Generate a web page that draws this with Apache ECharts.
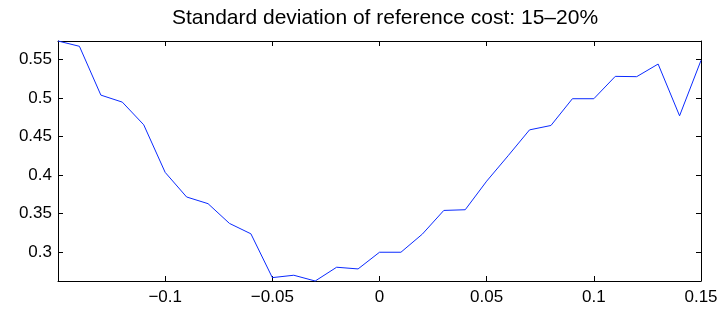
<!DOCTYPE html>
<html>
<head>
<meta charset="utf-8">
<script src="https://cdn.jsdelivr.net/npm/echarts@6/dist/echarts.min.js"></script>
<style>
  html, body { margin: 0; padding: 0; background: #fff; }
  #main { width: 728px; height: 309px; }
</style>
</head>
<body>
<div id="main"></div>
<script>
var titleText = 'Standard deviation of reference cost: 15\u201320%';

// x 取值
var xs = [-0.15, -0.14, -0.13, -0.12, -0.11, -0.10, -0.09, -0.08, -0.07, -0.06,
          -0.05, -0.04, -0.03, -0.02, -0.01, 0.00, 0.01, 0.02, 0.03, 0.04,
          0.05, 0.06, 0.07, 0.08, 0.09, 0.10, 0.11, 0.12, 0.13, 0.14, 0.15];
// 曲线数值
var ys = [0.5743, 0.5674, 0.5039, 0.4948, 0.4653, 0.4034, 0.3714, 0.3627, 0.3370, 0.3235,
          0.2665, 0.2696, 0.2621, 0.2800, 0.2778, 0.2995, 0.2995, 0.3231, 0.3539, 0.3548,
          0.3920, 0.4250, 0.4587, 0.4644, 0.4992, 0.4992, 0.5283, 0.5279, 0.5443, 0.4770, 0.5491];

var xMin = -0.15, xMax = 0.15;
var yMin = Math.min.apply(null, ys), yMax = Math.max.apply(null, ys);

var points = xs.map(function (x, i) { return [x, ys[i]]; });

function fmt(v) {
    return String(+v.toFixed(4)).replace('-', '\u2212');
}

var font = 'Liberation Sans, Arial, Helvetica, sans-serif';
var tick = { show: true, inside: true, length: 5, lineStyle: { color: '#000', width: 1 } };
var line = { show: true, onZero: false, lineStyle: { color: '#000', width: 1 } };

var myChart = echarts.init(document.getElementById('main'));
var option = {
    animation: false,
    title: {
        text: titleText,
        left: 380,
        textAlign: 'center',
        top: 3,
        textStyle: { fontFamily: font, fontSize: 21, fontWeight: 'normal', color: '#000' }
    },
    grid: { left: 58, right: 27, top: 41, bottom: 28, containLabel: false },
    xAxis: [{
        type: 'value', min: xMin, max: xMax, interval: 0.05,
        axisLine: line, axisTick: tick, splitLine: { show: false },
        axisLabel: { showMinLabel: false, margin: 8, color: '#000', fontFamily: font, fontSize: 17, formatter: fmt }
    }, {
        type: 'value', position: 'top', min: xMin, max: xMax, interval: 0.05,
        axisLine: line, axisTick: tick, splitLine: { show: false }, axisLabel: { show: false }
    }],
    yAxis: [{
        type: 'value', min: yMin, max: yMax,
        axisLine: line, axisTick: tick, splitLine: { show: false },
        axisLabel: { showMinLabel: false, showMaxLabel: false, margin: 6, color: '#000', fontFamily: font, fontSize: 17, formatter: fmt }
    }, {
        type: 'value', position: 'right', min: yMin, max: yMax,
        axisLine: line, axisTick: tick, splitLine: { show: false }, axisLabel: { show: false }
    }],
    series: [{
        type: 'line',
        data: points,
        showSymbol: false,
        lineStyle: { color: '#0a2aff', width: 1 },
        clip: false
    }]
};
myChart.setOption(option);
</script>
</body>
</html>
